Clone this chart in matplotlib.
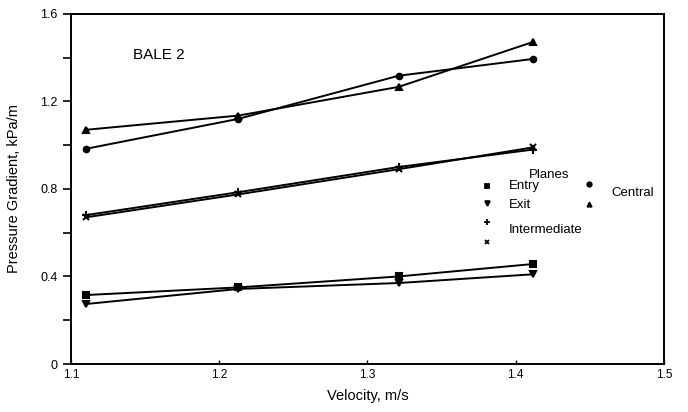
import numpy as np
import matplotlib.pyplot as plt

plt.rcParams['font.family'] = ['Liberation Sans', 'DejaVu Sans']

# velocities, m/s
velocity = [1.11, 1.213, 1.321, 1.412]

# pressure gradients, kPa/m
entry = [0.315, 0.35, 0.40, 0.457]
exit_ = [0.274, 0.343, 0.37, 0.41]
intermediate_plus = [0.68, 0.785, 0.90, 0.98]
intermediate_x = [0.67, 0.775, 0.89, 0.99]
central_circle = [0.983, 1.12, 1.317, 1.394]
central_tri = [1.07, 1.135, 1.266, 1.472]

xticks = [1.1, 1.2, 1.3, 1.4, 1.5]
yticks = [0, 0.4, 0.8, 1.2, 1.6]


def create_plot():
    fig = plt.figure(figsize=(6.88, 4.12), dpi=100)
    ax = fig.add_axes([0.103, 0.1165, 0.862, 0.85])

    series = [
        (entry, 's', 4.5),
        (exit_, 'v', 4.5),
        (intermediate_plus, '+', 6),
        (intermediate_x, 'x', 5),
        (central_circle, 'o', 4),
        (central_tri, '^', 4.5),
    ]
    for vals, mk, ms in series:
        ax.plot(velocity, vals, color='black', lw=1.4, marker=mk, ms=ms,
                mec='black', mfc='black', mew=1.5)

    ax.set_xlim(1.1, 1.5)
    ax.set_ylim(0, 1.6)
    ax.set_xticks(xticks)
    ax.set_xticklabels(['1.1', '1.2', '1.3', '1.4', '1.5'], fontsize=8.5)
    ax.set_yticks(yticks)
    ax.set_yticklabels(['0', '0.4', '0.8', '1.2', '1.6'], fontsize=9)
    ax.set_yticks(np.arange(0.2, 1.6, 0.4), minor=True)
    ax.tick_params(axis='y', which='both', direction='out', length=6, width=1.2)
    ax.tick_params(axis='x', direction='in', length=3, width=1)
    for s in ax.spines.values():
        s.set_linewidth(1.4)

    ax.set_xlabel('Velocity, m/s', fontsize=10.5, labelpad=6)
    ax.set_ylabel('Pressure Gradient, kPa/m', fontsize=10.5, labelpad=14)

    ax.text(1.142, 1.41, 'BALE 2', fontsize=11, va='center')

    # hand-drawn key
    tr = ax.transAxes
    ax.text(0.807, 0.54, 'Planes', transform=tr, fontsize=9.5, ha='center', va='center')
    key = [
        ('s', 0.701, 0.509, 3.5, 'Entry', 0.738, 0.509),
        ('v', 0.701, 0.46, 3.5, 'Exit', 0.738, 0.455),
        ('+', 0.701, 0.406, 4, None, 0, 0),
        ('x', 0.701, 0.349, 3.5, None, 0, 0),
    ]
    for mk, mx, my, ms, lab, tx, ty in key:
        ax.plot([mx], [my], marker=mk, ms=ms, mew=1.3, color='black',
                transform=tr, clip_on=False)
        if lab:
            ax.text(tx, ty, lab, transform=tr, fontsize=9.5, va='center')
    ax.text(0.738, 0.383, 'Intermediate', transform=tr, fontsize=9.5, va='center')
    ax.plot([0.874], [0.514], marker='o', ms=3.5, color='black', transform=tr)
    ax.plot([0.874], [0.457], marker='^', ms=3.5, color='black', transform=tr)
    ax.text(0.911, 0.489, 'Central', transform=tr, fontsize=9.5, va='center')

    fig.savefig('out.png', dpi=100)


create_plot()
